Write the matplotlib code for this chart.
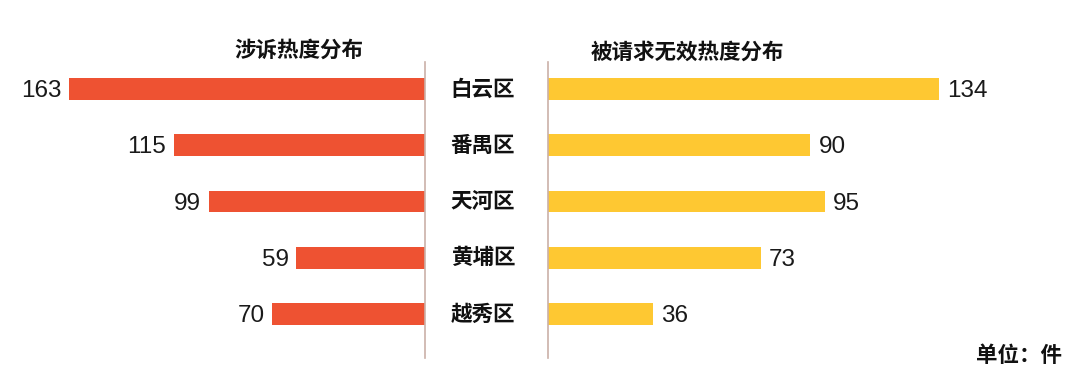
import matplotlib
matplotlib.use("Agg")
import matplotlib.pyplot as plt

districts = ["白云区", "番禺区", "天河区", "黄埔区", "越秀区"]
litigation = [163, 115, 99, 59, 70]
invalidation = [134, 90, 95, 73, 36]
title_left = "涉诉热度分布"
title_right = "被请求无效热度分布"
unit_text = "单位：件"

RED = "#EE5232"
YELLOW = "#FEC832"
LINE = "#CBB0A8"
CJK = ["Noto Sans CJK SC", "DejaVu Sans"]
NUM = ["Liberation Sans", "DejaVu Sans"]

W, H = 1080, 390
fig = plt.figure(figsize=(W / 100, H / 100), dpi=100)

top_px, bot_px = 62, 358
bottom = (H - bot_px) / H
height = (bot_px - top_px) / H

axL = fig.add_axes([10 / W, bottom, 415 / W, height])
axR = fig.add_axes([548 / W, bottom, 522 / W, height])

ypos = list(range(len(districts)))
bar_h = 0.39
ylim = (4.782, -0.48)

axL.barh(ypos, litigation, height=bar_h, color=RED)
axL.set_xlim(415 / 2.184, 0)
axR.barh(ypos, invalidation, height=bar_h, color=YELLOW)
axR.set_xlim(0, 522 / 2.915)

for ax in (axL, axR):
    ax.set_ylim(*ylim)
    ax.set_xticks([])
    ax.set_yticks([])
    for s in ax.spines.values():
        s.set_visible(False)

axL.spines["right"].set_visible(True)
axL.spines["right"].set_color(LINE)
axL.spines["right"].set_linewidth(1.2)
axR.spines["left"].set_visible(True)
axR.spines["left"].set_color(LINE)
axR.spines["left"].set_linewidth(1.2)

for y, v in zip(ypos, litigation):
    axL.annotate(str(v), (v, y), xytext=(-5.5, -1.5), textcoords="offset points",
                 ha="right", va="center", fontsize=17.5, family=NUM, color="#1a1a1a")
for y, v in zip(ypos, invalidation):
    axR.annotate(str(v), (v, y), xytext=(6, -1.5), textcoords="offset points",
                 ha="left", va="center", fontsize=17.5, family=NUM, color="#1a1a1a")

# middle category labels
for y, name in zip(ypos, districts):
    axR.annotate(name, (0, y), xycoords=("data", "data"), xytext=(-65 / 1.389, 0),
                 textcoords="offset points", ha="center", va="center",
                 fontsize=15.5, fontweight="heavy", family=CJK, color="#111111")

fig.text(299 / W, 1 - 50 / H, title_left, ha="center", va="center",
         fontsize=15.5, fontweight="heavy", family=CJK, color="#111111")
fig.text(687 / W, 1 - 52 / H, title_right, ha="center", va="center",
         fontsize=15.5, fontweight="heavy", family=CJK, color="#111111")
fig.text(1062 / W, 1 - 355 / H, unit_text, ha="right", va="center",
         fontsize=15.5, fontweight="heavy", family=CJK, color="#111111")

fig.savefig("out.png", dpi=100)
